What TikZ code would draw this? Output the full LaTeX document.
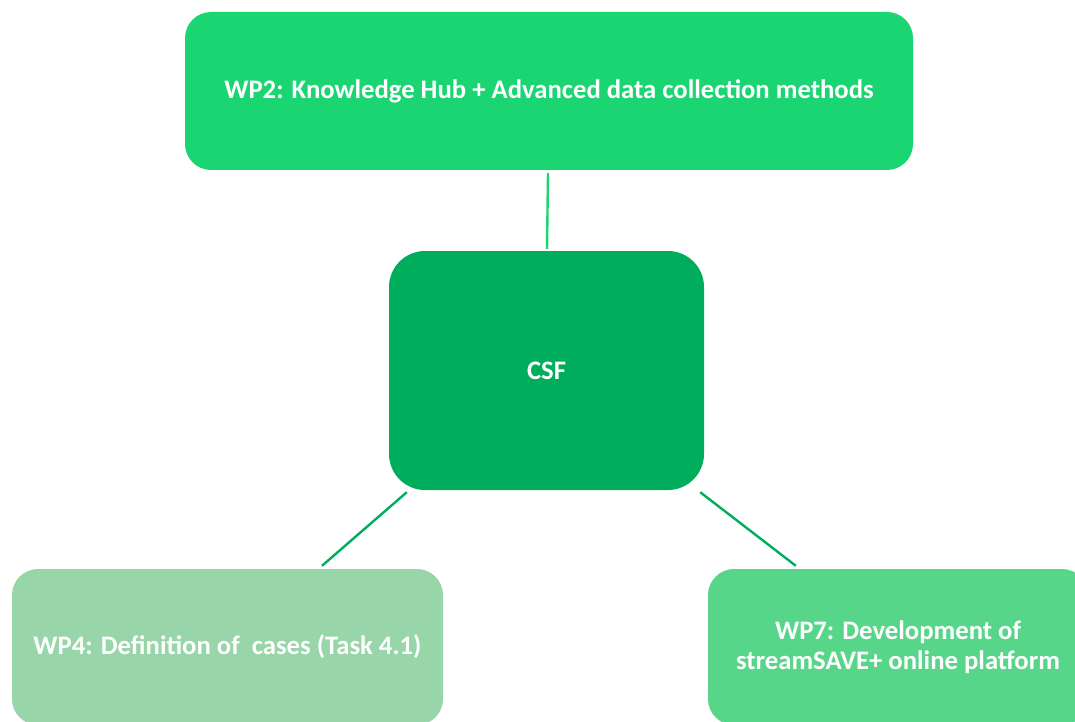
\documentclass[tikz,border=0pt]{standalone}
\usepackage{fontspec}
\setmainfont{Carlito}
\usetikzlibrary{calc}
\definecolor{hubgreen}{HTML}{1BD573}
\definecolor{csfgreen}{HTML}{00AD5C}
\definecolor{paleg}{HTML}{98D5A9}
\definecolor{midg}{HTML}{57D68A}
\tikzset{
	wpbox/.style={rectangle, rounded corners=#1, text=white, font=\fontsize{26.7}{30}\selectfont\bfseries, align=center, inner sep=0pt},
	link/.style={line width=2.4pt}
}

\begin{document}
\begin{tikzpicture}[x=1pt, y=-1pt]
				\useasboundingbox (0, 0) rectangle (1075, 722);
				\clip (0, 0) rectangle (1075, 722);
				
				\node[wpbox=26pt, fill=hubgreen, minimum width=728pt, minimum height=158pt] (wp2) at (549, 91) {WP2: Knowledge Hub + Advanced data collection methods};
				
				\node[wpbox=36pt, fill=csfgreen, minimum width=315pt, minimum height=239pt] (csf) at (546.5, 370.5) {CSF};
				
				\node[wpbox=26pt, fill=paleg, minimum width=431pt, minimum height=156pt] (wp4) at (227.5, 647) {WP4: Definition of \ cases (Task 4.1)};
				
				\node[wpbox=26pt, fill=midg, minimum width=380pt, minimum height=156pt] (wp7) at (898, 647) {WP7: Development of\\streamSAVE+ online platform};
				
				\draw[link, hubgreen] ($(wp2.south)+(-1, 3)$) -- ($(csf.north)+(0.5, -2)$);
				\draw[link, csfgreen] ($(csf.south west)+(18, 2)$) -- ($(wp4.north)+(94.5, -3)$);
				\draw[link, csfgreen] ($(csf.south east)+(-4, 2)$) -- ($(wp7.north west)+(88, -3)$);
			\end{tikzpicture}
\end{document}
